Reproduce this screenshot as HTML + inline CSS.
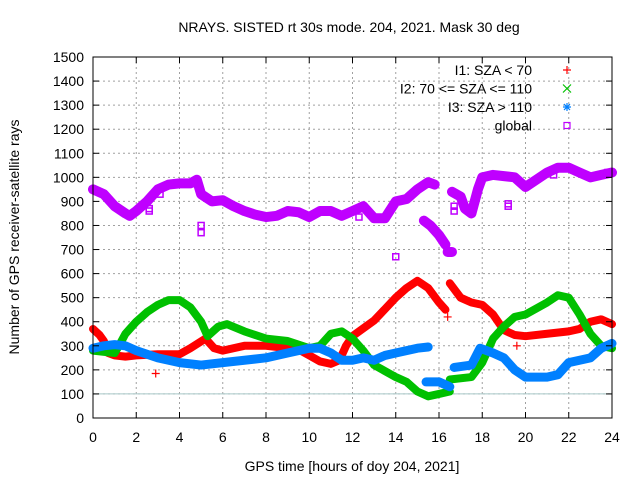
<!DOCTYPE html>
<html><head><meta charset="utf-8"><style>
body{margin:0;background:#fff}
svg{display:block;font-family:"Liberation Sans",sans-serif;font-size:14px}
</style></head><body>
<svg id="chart" width="640" height="480">
<text x="349" y="32" text-anchor="middle">NRAYS. SISTED rt 30s mode. 204, 2021. Mask 30 deg</text>
<text x="352" y="471" text-anchor="middle">GPS time [hours of doy 204, 2021]</text>
<text transform="translate(19,237) rotate(-90)" text-anchor="middle">Number of GPS receiver-satellite rays</text>
<g id="grid"></g><g id="marks"></g><g id="axes"></g><g id="legend"></g>
</svg>
<script>
const xTicks=[0,2,4,6,8,10,12,14,16,18,20,22,24];
const yTicks=[0,100,200,300,400,500,600,700,800,900,1000,1100,1200,1300,1400,1500];
const seriesNames=["I1: SZA < 70","I2: 70 <= SZA <= 110","I3: SZA > 110","global"];
const globalA=[[0,950],[0.5,930],[1,880],[1.5,850],[1.7,840],[2,860],[2.5,900],[3,950],[3.5,970],[4,975],[4.5,975],[4.8,990],[5,930],[5.5,900],[6,905],[6.5,880],[7,860],[7.5,845],[8,835],[8.5,840],[9,860],[9.5,855],[10,835],[10.5,860],[11,860],[11.5,840],[12,860],[12.5,880],[13,830],[13.5,830],[14,900],[14.5,910],[15,950],[15.5,980],[15.8,970]];
const globalB=[[15.3,820],[15.6,800],[16,760],[16.3,720]];
const globalC=[[16.4,690],[16.6,690]];
const globalD=[[16.6,940],[17,920],[17.2,870],[17.5,850],[17.8,950],[18,1000],[18.5,1010],[19,1005],[19.5,1000],[20,960],[20.5,990],[21,1020],[21.5,1040],[22,1040],[22.5,1020],[23,1000],[23.5,1010],[24,1020]];
const globalOut=[[2.6,860],[2.6,870],[3.1,930],[5,800],[5,770],[12.3,835],[14,670],[16.7,880],[16.7,860],[19.2,890],[19.2,880],[21.3,1010],[23.8,1020]];
const i1A=[[0,370],[0.3,345],[0.5,320],[0.7,270],[1,260],[1.5,255],[2,260],[3,265],[4,265],[4.5,290],[5.2,330],[5.6,290],[6,280],[7,300],[8,300],[9,290],[9.5,285],[10,260],[10.5,235],[11,225],[11.4,240],[11.7,300],[12,340],[13,405],[14,500],[14.5,540],[15,570],[15.5,540],[16,480],[16.3,450]];
const i1B=[[16.5,560],[17,500],[17.5,480],[18,470],[18.5,430],[19,365],[19.5,345],[20,340],[21,350],[22,360],[22.5,370],[23,400],[23.5,410],[24,390]];
const i1Out=[[2.9,185],[16.4,420],[16.2,460],[19.6,300]];
const i2A=[[0,280],[1,270],[1.2,300],[1.5,350],[2,400],[2.5,440],[3,470],[3.5,490],[4,490],[4.5,460],[5,400],[5.3,340],[5.8,380],[6.2,390],[7,360],[8,330],[9,320],[10,290],[10.5,300],[11,350],[11.5,360],[12,330],[12.5,280],[13,220],[14,170],[14.5,150],[15,110],[15.5,90],[16,100],[16.5,110]];
const i2B=[[16.5,160],[17.5,170],[18,230],[18.5,330],[19,380],[19.5,420],[20,430],[21,480],[21.5,510],[22,500],[22.5,430],[23,350],[23.5,300],[24,290]];
const i3A=[[0,290],[0.5,300],[1,305],[1.5,300],[2,280],[3,250],[4,230],[5,220],[6,230],[7,240],[8,250],[9,270],[10,290],[10.5,290],[11,270],[11.5,240],[12,240],[12.5,250],[13,240],[13.5,260],[14,270],[14.5,280],[15,290],[15.5,295]];
const i3B=[[15.4,150],[16,150],[16.5,130]];
const i3C=[[16.7,210],[17.5,220],[17.9,290],[18.5,270],[19,250],[19.5,200],[20,170],[21,170],[21.5,180],[22,230],[23,250],[23.5,290],[24,310]];
const refLine=[100];

const X0=93,X1=612,Y0=418,Y1=57;
const xs=h=>X0+(h-0)/24*(X1-X0);
const ys=v=>Y0-(v-0)/1500*(Y0-Y1);
const NS="http://www.w3.org/2000/svg";
function mk(tag,attrs,parent){const e=document.createElementNS(NS,tag);for(const k in attrs)e.setAttribute(k,attrs[k]);parent.appendChild(e);return e;}
const grid=document.getElementById('grid'),marks=document.getElementById('marks'),axes=document.getElementById('axes'),leg=document.getElementById('legend');
xTicks.forEach(t=>{
 if(t>0&&t<24){const l=mk('line',{x1:xs(t),x2:xs(t),y1:Y1,y2:Y0,stroke:'#a0a0a0','stroke-dasharray':'2,3'},grid);
 
 }
 mk('line',{x1:xs(t),x2:xs(t),y1:Y0,y2:Y0-6,stroke:'#000'},axes);
 mk('line',{x1:xs(t),x2:xs(t),y1:Y1,y2:Y1+6,stroke:'#000'},axes);
 const tx=mk('text',{x:xs(t),y:442,'text-anchor':'middle'},axes);tx.textContent=t;
 
 
});
yTicks.forEach(t=>{
 if(t>0&&t<1500){const l=mk('line',{x1:X0,x2:X1,y1:ys(t),y2:ys(t),stroke:'#a0a0a0','stroke-dasharray':'2,3'},grid);
 
 }
 mk('line',{x1:X0,x2:X0+6,y1:ys(t),y2:ys(t),stroke:'#000'},axes);
 mk('line',{x1:X1,x2:X1-6,y1:ys(t),y2:ys(t),stroke:'#000'},axes);
 const tx=mk('text',{x:84,y:ys(t)+5,'text-anchor':'end'},axes);tx.textContent=t;
 
 
});
const border=mk('rect',{x:X0,y:Y1,width:X1-X0,height:Y0-Y1,fill:'none',stroke:'#000'},axes);


const rl=mk('line',{x1:X0,x2:X1,y1:ys(refLine[0]),y2:ys(refLine[0]),stroke:'#a8c8c8'},marks);


function band(pts,color,w,name){
 const p=mk('polyline',{points:pts.map(d=>xs(d[0])+','+ys(d[1])).join(' '),fill:'none',stroke:color,'stroke-width':w,'stroke-linejoin':'round','stroke-linecap':'round'},marks);
 
 
}
function outl(pts,color,name,kind){
 pts.forEach(d=>{const x=xs(d[0]),y=ys(d[1]);let e;
  if(kind==='sq'){e=mk('rect',{x:x-3,y:y-3,width:6,height:6,fill:'none',stroke:color,'stroke-width':1.5},marks);}
  else{e=mk('path',{d:`M${x-4},${y}H${x+4}M${x},${y-4}V${y+4}`,stroke:color,'stroke-width':1.2},marks);}
  
  });
}
const cG='#bf00ff',cR='#ff0000',cGr='#00c000',cB='#0080ff';
[globalA,globalB,globalC,globalD].forEach(s=>band(s,cG,10,'global-series'));
outl(globalOut,cG,'global-outlier','sq');
[i1A,i1B].forEach(s=>band(s,cR,8,'i1-series'));
outl(i1Out,cR,'i1-outlier','plus');
[i2A,i2B].forEach(s=>band(s,cGr,8,'i2-series'));
[i3A,i3B,i3C].forEach(s=>band(s,cB,9,'i3-series'));
const legY=[70,88.5,107,125.5],legC=[cR,cGr,cB,cG];
seriesNames.forEach((n,i)=>{
 const t=mk('text',{x:532,y:legY[i]+5,'text-anchor':'end'},leg);t.textContent=n;
 
 
 const x=567,y=legY[i];let d;
 if(i===0)d=`M${x-4},${y}H${x+4}M${x},${y-4}V${y+4}`;
 else if(i===1)d=`M${x-4},${y-4}L${x+4},${y+4}M${x-4},${y+4}L${x+4},${y-4}`;
 else if(i===2)d=`M${x-4},${y}H${x+4}M${x},${y-4}V${y+4}M${x-3},${y-3}L${x+3},${y+3}M${x-3},${y+3}L${x+3},${y-3}`;
 let m;
 if(i===3)m=mk('rect',{x:x-3,y:y-3,width:6,height:6,fill:'none',stroke:legC[i],'stroke-width':1.2},leg);
 else m=mk('path',{d:d,stroke:legC[i],'stroke-width':1.2,fill:'none'},leg);
 
 
});
</script>
</body></html>
